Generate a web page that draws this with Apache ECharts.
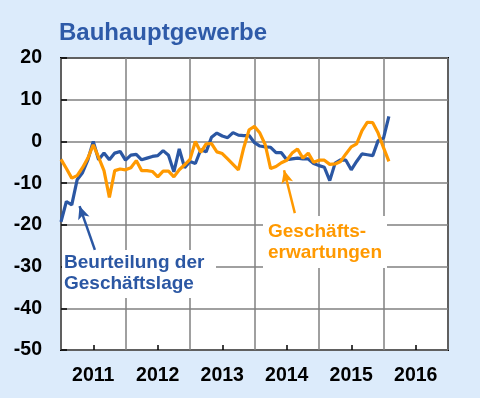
<!DOCTYPE html>
<html>
<head>
<meta charset="utf-8">
<script src="https://cdn.jsdelivr.net/npm/echarts@6/dist/echarts.min.js"></script>
<style>
  html, body { margin: 0; padding: 0; background: #dcebfb; }
  #chart { width: 480px; height: 398px; }
</style>
</head>
<body>
<div id="chart"></div>
<script>
// Monatswerte ab Januar 2011 (Index 0 = Jan 2011)
var years = ['2011', '2012', '2013', '2014', '2015', '2016'];
var yTicks = [-50, -40, -30, -20, -10, 0, 10, 20];

// Beurteilung der Geschäftslage
var lage = [
  -19.3, -14.4, -15.2, -9.2, -7.5, -4.4, 0, -4.4, -2.8, -4.4, -2.8, -2.4,
  -4.5, -3.3, -3.1, -4.4, -4, -3.6, -3.4, -2.2, -3.3, -7.3, -1.8, -6.3,
  -4.8, -5.3, -2, -2.5, 1, 2, 1.3, 0.9, 2.1, 1.5, 1.4, 1.4,
  -0.3, -1.1, -1.3, -1.4, -2.7, -2.7, -4.4, -4.2, -4, -4.2, -4.2, -5.3,
  -5.8, -6.2, -9.4, -5.2, -4.4, -4.5, -6.8, -4.8, -3, -3.2, -3.4, 0.2,
  0.8, 6
];

// Geschäftserwartungen
var erwartungen = [
  -4.3, -6.5, -8.8, -8.2, -6.3, -4, -0.8, -3.8, -7, -13.4, -7, -6.6,
  -6.8, -6.3, -4.6, -7, -7, -7.2, -8.5, -7.1, -7.1, -8.5, -6.8, -5.6,
  -4.3, 0, -2.6, -0.6, -0.5, -2.5, -2.9, -4.2, -5.5, -6.8, -1.5, 2.8,
  3.6, 2, -0.8, -6.5, -6, -5.1, -4.5, -2.8, -1.8, -4, -2.8, -5,
  -4.5, -4.5, -5.5, -5.4, -4.8, -3, -1.3, -0.6, 2.6, 4.6, 4.5, 2,
  -1.5, -4.8
];

var blau = '#2b57a3';
var orange = '#ff9900';
var fontFam = 'Liberation Sans, Arial, sans-serif';

function toPairs(arr) {
  return arr.map(function (v, i) { return [i, v]; });
}

var chart = echarts.init(document.getElementById('chart'));

var option = {
  backgroundColor: '#dcebfb',
  animation: false,
  title: {
    text: 'Bauhauptgewerbe',
    left: 59,
    top: 21,
    padding: 0,
    textStyle: { color: '#2e5aa8', fontSize: 24, fontWeight: 'bold', fontFamily: fontFam }
  },
  grid: {
    left: 61, top: 58, width: 387, height: 292,
    show: true, backgroundColor: '#fff', borderColor: '#000', borderWidth: 2
  },
  xAxis: [{
    type: 'value',
    min: 0, max: 72, interval: 12,
    axisLine: { show: false },
    axisTick: { show: false },
    axisLabel: { show: false },
    splitLine: { show: true, lineStyle: { color: '#808080', width: 1.5 } }
  }, {
    type: 'category',
    data: years,
    position: 'bottom',
    boundaryGap: true,
    axisLine: { show: false },
    axisTick: { show: true, inside: true, alignWithLabel: true, length: 5, lineStyle: { color: '#000', width: 1.5 } },
    axisLabel: { margin: 16, color: '#000', fontSize: 19.5, fontWeight: 'bold', fontFamily: fontFam },
    splitLine: { show: false }
  }],
  yAxis: {
    type: 'value',
    min: yTicks[0], max: yTicks[yTicks.length - 1], interval: 10,
    axisLine: { show: false },
    axisTick: { show: true, inside: true, length: 6, lineStyle: { color: '#000', width: 1.5 } },
    axisLabel: { margin: 19, color: '#000', fontSize: 19.5, fontWeight: 'bold', fontFamily: fontFam },
    splitLine: { show: true, lineStyle: { color: '#808080', width: 1.5 } }
  },
  graphic: [
    { type: 'rect', z: 1, shape: { x: 62, y: 250, width: 154, height: 48 }, style: { fill: '#fff' } },
    { type: 'rect', z: 1, shape: { x: 263, y: 216, width: 124, height: 52 }, style: { fill: '#fff' } },
    {
      type: 'text', z: 2, left: 64, top: 252,
      style: { text: 'Beurteilung der\nGeschäftslage', fill: blau, font: 'bold 19px ' + fontFam, lineHeight: 21.5 }
    },
    {
      type: 'text', z: 2, left: 268, top: 221,
      style: { text: 'Geschäfts-\nerwartungen', fill: orange, font: 'bold 19px ' + fontFam, lineHeight: 21.5 }
    }
  ],
  series: [{
    name: 'Beurteilung der Geschäftslage',
    type: 'line',
    xAxisIndex: 0,
    data: toPairs(lage),
    showSymbol: false,
    lineStyle: { color: blau, width: 3.2 },
    itemStyle: { color: blau },
    markLine: {
      silent: true,
      animation: false,
      label: { show: false },
      lineStyle: { color: blau, width: 2.5, type: 'solid' },
      symbolSize: [9, 13],
      data: [[
        { coord: [6.3, -26], symbol: 'none' },
        { coord: [3.45, -15.5], symbol: 'arrow' }
      ]]
    }
  }, {
    name: 'Geschäftserwartungen',
    type: 'line',
    xAxisIndex: 0,
    data: toPairs(erwartungen),
    showSymbol: false,
    lineStyle: { color: orange, width: 3.2 },
    itemStyle: { color: orange },
    markLine: {
      silent: true,
      animation: false,
      label: { show: false },
      lineStyle: { color: orange, width: 2.5, type: 'solid' },
      symbolSize: [9, 13],
      data: [[
        { coord: [43.5, -17.2], symbol: 'none' },
        { coord: [41.5, -6.9], symbol: 'arrow' }
      ]]
    }
  }]
};

chart.setOption(option);
</script>
</body>
</html>
